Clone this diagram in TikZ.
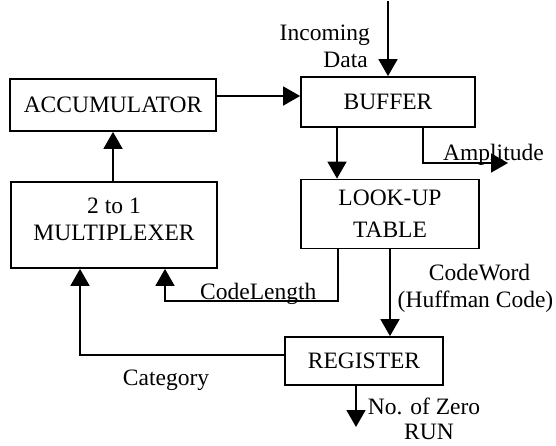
\documentclass[tikz,border=0pt]{standalone}
\usepackage{fontspec}
\setmainfont{Liberation Serif}
\usetikzlibrary{arrows.meta,calc}
\begin{document}
\begin{tikzpicture}[x=1pt,y=-1pt,
 every node/.style={font=\fontsize{23.5}{27}\selectfont},
 blk/.style={draw,line width=1.8pt,inner sep=0pt,align=center},
 arr/.style={line width=1.8pt,-{Triangle[length=17pt,width=19pt]}},
 lbl/.style={inner sep=0pt}]
\useasboundingbox (0,0) rectangle (556,445);
\node[blk,minimum width=206pt,minimum height=52pt] (acc) at (113,105) {ACCUMULATOR};
\node[blk,minimum width=206pt,minimum height=86pt,text depth=12pt] (mux) at (114,225) {2 to 1\\MULTIPLEXER};
\node[blk,minimum width=174pt,minimum height=50pt] (buf) at (388,102) {BUFFER};
\node[blk,minimum width=178pt,minimum height=69pt] (lut) at (390,214) {LOOK-UP\\[5pt]TABLE};
\node[blk,minimum width=158pt,minimum height=48pt] (reg) at (364,361) {REGISTER};

\coordinate (in) at (388,1);
\coordinate (amp) at (508,163);
\coordinate (cl) at (165,301);
\coordinate (cat) at (80,355);
\coordinate (nz) at (356,427);
\coordinate (up) at (113,182);

\draw[arr] (up) -- (up |- acc.south);
\draw[arr] ([yshift=9pt]acc.east) -- ([yshift=9pt]acc.east -| buf.west);
\draw[arr] (in) -- (in |- buf.north);
\draw[arr] ([xshift=-51pt]buf.south) -- ([xshift=-51pt]buf.south |- lut.north);
\draw[arr] ([xshift=35pt]buf.south) |- (amp);
\draw[arr] ([xshift=-52pt]lut.south) |- (cl) -- (cl |- mux.south);
\draw[arr] (lut.south) -- (lut.south |- reg.north);
\draw[arr] ([yshift=6pt]reg.west) -- (cat) -- (cat |- mux.south);
\draw[arr] (nz |- reg.south) -- (nz);

\node[lbl,anchor=base east] (inc1) at (370,40) {Incoming};
\node[lbl,anchor=base east] (inc2) at (368,67) {Data};
\node[lbl,anchor=base west] (ampl) at (443,160) {Amplitude};
\node[lbl,anchor=base west] (cll) at (200,299) {CodeLength};
\node[lbl,anchor=base] (cw1) at (479.5,280) {CodeWord};
\node[lbl,anchor=base] (cw2) at (475.5,307) {(Huffman Code)};
\node[lbl,anchor=base] (catl) at (166,385) {Category};
\node[lbl,anchor=base] (nz1) at (424,414) {No. of Zero};
\node[lbl,anchor=base] (nz2) at (429,439) {RUN};
\end{tikzpicture}
\end{document}
